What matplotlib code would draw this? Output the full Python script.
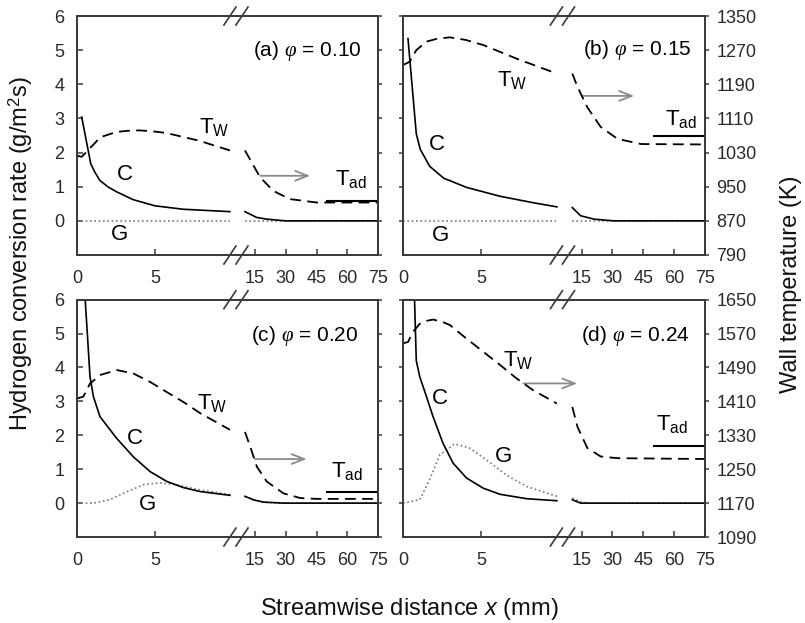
import numpy as np
import matplotlib
matplotlib.use("Agg")
import matplotlib.pyplot as plt

plt.rcParams['font.family'] = ['Liberation Sans', 'DejaVu Sans']
plt.rcParams['mathtext.fontset'] = 'custom'
plt.rcParams['mathtext.rm'] = 'Liberation Sans'
plt.rcParams['mathtext.it'] = 'Liberation Serif:italic'
plt.rcParams['mathtext.sf'] = 'Liberation Sans:italic'

# ---- data (x in mm, C and G in g/m2s, T in K) ----
# panel (a) phi = 0.10
a_c1_x = [0.3, 0.88, 1.15, 1.47, 2.0, 2.54, 3.6, 5.0, 6.8, 9.8]
a_c1_y = [3.04, 1.67, 1.42, 1.18, 0.99, 0.85, 0.62, 0.44, 0.34, 0.27]
a_c2_x = [10.1, 15.8, 20.7, 30, 75]
a_c2_y = [0.27, 0.10, 0.05, 0.0, 0.0]
a_g1_x = [0, 9.8]
a_g1_y = [0, 0]
a_g2_x = [10.1, 75]
a_g2_y = [0, 0]
a_tw1_x = [0, 0.3, 0.9, 1.5, 2.5, 3.2, 4.0, 4.8, 5.7, 7.8, 9.8]
a_tw1_T = [1023, 1020, 1043, 1066, 1078, 1081, 1082, 1080, 1076, 1058, 1035]
a_tw2_x = [10.1, 14.2, 17.5, 24, 32, 45, 75]
a_tw2_T = [1035, 1000, 972, 940, 921, 913, 913]
a_tad = 916

# panel (b) phi = 0.15
b_c1_x = [0.32, 0.85, 1.1, 1.7, 2.6, 4.06, 6.2, 8.33, 9.83]
b_c1_y = [5.34, 2.55, 2.10, 1.60, 1.25, 0.98, 0.72, 0.53, 0.41]
b_c2_x = [10.5, 14.5, 21, 30.7, 75]
b_c2_y = [0.39, 0.15, 0.05, 0.0, 0.0]
b_g1_x = [0, 9.8]
b_g1_y = [0, 0]
b_g2_x = [10.5, 75]
b_g2_y = [0, 0]
b_tw1_x = [0, 0.43, 0.85, 1.5, 2.2, 3.0, 4.0, 5.13, 7.26, 9.83]
b_tw1_T = [1235, 1243, 1270, 1290, 1297, 1300, 1294, 1282, 1250, 1215]
b_tw2_x = [10.5, 13, 17.8, 24.3, 32.5, 43.9, 75]
b_tw2_T = [1215, 1184, 1136, 1090, 1062, 1050, 1049]
b_tad = 1068

# panel (c) phi = 0.20
c_c1_x = [0.48, 0.66, 0.83, 1.05, 1.47, 2.54, 3.6, 4.68, 5.75, 6.8, 7.9, 9.8]
c_c1_y = [6.3, 5.0, 3.73, 3.14, 2.55, 1.91, 1.37, 0.93, 0.64, 0.46, 0.34, 0.23]
c_c2_x = [10.1, 14.2, 19, 28.9, 75]
c_c2_y = [0.20, 0.10, 0.03, 0.0, 0.0]
c_g1_x = [0, 1.05, 2.1, 3.2, 4.25, 5.3, 6.4, 7.9, 9.8]
c_g1_y = [0, 0, 0.10, 0.34, 0.54, 0.60, 0.54, 0.39, 0.25]
c_g2_x = [10.1, 15, 20, 30, 75]
c_g2_y = [0.20, 0.08, 0.02, 0.0, 0.0]
c_tw1_x = [0, 0.4, 0.83, 1.47, 2.54, 3.6, 4.68, 5.75, 6.8, 7.9, 9.8]
c_tw1_T = [1417, 1421, 1452, 1472, 1484, 1476, 1456, 1432, 1409, 1382, 1343]
c_tw2_x = [10.1, 12.6, 15.9, 20.7, 28.9, 37, 45, 75]
c_tw2_T = [1338, 1304, 1256, 1221, 1193, 1182, 1180, 1180]
c_tad = 1196

# panel (d) phi = 0.24
d_c1_x = [0.72, 0.85, 1.07, 1.5, 1.92, 2.56, 3.2, 4.06, 5.13, 6.2, 7.9, 9.83]
d_c1_y = [6.3, 4.2, 3.73, 3.14, 2.55, 1.76, 1.18, 0.74, 0.44, 0.26, 0.13, 0.07]
d_c2_x = [10.5, 14.5, 75]
d_c2_y = [0.10, 0.0, 0.0]
d_g1_x = [0, 1.07, 1.7, 2.35, 3.3, 4.27, 5.34, 6.6, 7.9, 9.83]
d_g1_y = [0, 0.10, 0.69, 1.42, 1.75, 1.62, 1.27, 0.83, 0.49, 0.20]
d_g2_x = [10.5, 15, 20, 75]
d_g2_y = [0.15, 0.03, 0.0, 0.0]
d_tw1_x = [0, 0.32, 0.64, 1.07, 1.5, 1.92, 2.5, 3.0, 4.06, 5.13, 6.2, 7.26, 8.33, 9.83]
d_tw1_T = [1547, 1550, 1574, 1593, 1600, 1603, 1598, 1590, 1558, 1527, 1496, 1464,
           1436, 1405]
d_tw2_x = [10.5, 13, 17.8, 24.3, 32.5, 75]
d_tw2_T = [1397, 1350, 1300, 1280, 1276, 1274]
d_tad = 1304

titles = ['(a) $\\varphi$ = 0.10', '(b) $\\varphi$ = 0.15',
          '(c) $\\varphi$ = 0.20', '(d) $\\varphi$ = 0.24']
x_ticks = [0, 5, 15, 30, 45, 60, 75]
y_ticks = [0, 1, 2, 3, 4, 5, 6]
t_ticks_top = [790, 870, 950, 1030, 1110, 1190, 1270, 1350]
t_ticks_bot = [1090, 1170, 1250, 1330, 1410, 1490, 1570, 1650]

# broken x axis: 0-10 mm linear, then 10-75 mm compressed
GAP = 0.75
K = 0.1314


def fwd(x):
    x = np.asarray(x, dtype=float)
    return np.where(x <= 10, x, 10 + GAP + (x - 10) * K)


def inv(u):
    u = np.asarray(u, dtype=float)
    return np.where(u <= 10, u, 10 + np.maximum(u - 10 - GAP, 0) / K)


panels = [
    dict(c=(a_c1_x, a_c1_y, a_c2_x, a_c2_y), g=(a_g1_x, a_g1_y, a_g2_x, a_g2_y),
         tw=(a_tw1_x, a_tw1_T, a_tw2_x, a_tw2_T), tad=a_tad, tt=t_ticks_top,
         txt_tw=(8.78, 2.76), txt_c=(3.08, 1.37), txt_g=(2.69, -0.39),
         txt_tad=(61.7, 1.23), title=(67.1, 4.98), arrow=(17.5, 41.9, 1.32)),
    dict(c=(b_c1_x, b_c1_y, b_c2_x, b_c2_y), g=(b_g1_x, b_g1_y, b_g2_x, b_g2_y),
         tw=(b_tw1_x, b_tw1_T, b_tw2_x, b_tw2_T), tad=b_tad, tt=t_ticks_top,
         txt_tw=(6.99, 4.12), txt_c=(2.14, 2.25), txt_g=(2.39, -0.44),
         txt_tad=(63.3, 2.99), title=(68.2, 5.0), arrow=(15.4, 40.6, 3.66)),
    dict(c=(c_c1_x, c_c1_y, c_c2_x, c_c2_y), g=(c_g1_x, c_g1_y, c_g2_x, c_g2_y),
         tw=(c_tw1_x, c_tw1_T, c_tw2_x, c_tw2_T), tad=c_tad, tt=t_ticks_bot,
         txt_tw=(8.68, 2.96), txt_c=(3.72, 1.91), txt_g=(4.53, -0.05),
         txt_tad=(59.8, 0.96), title=(65.4, 4.92), arrow=(15.0, 40.2, 1.30)),
    dict(c=(d_c1_x, d_c1_y, d_c2_x, d_c2_y), g=(d_g1_x, d_g1_y, d_g2_x, d_g2_y),
         tw=(d_tw1_x, d_tw1_T, d_tw2_x, d_tw2_T), tad=d_tad, tt=t_ticks_bot,
         txt_tw=(7.37, 4.22), txt_c=(2.35, 3.09), txt_g=(6.45, 1.37),
         txt_tad=(58.8, 2.33), title=(67.4, 4.92), arrow=(7.69, 12.9, 3.53)),
]

rects = [
    [0.0957, 0.5907, 0.3739, 0.3836],
    [0.5006, 0.5907, 0.3752, 0.3836],
    [0.0957, 0.1380, 0.3739, 0.3810],
    [0.5006, 0.1380, 0.3752, 0.3810],
]

spine_col = '#3a3a3a'
tick_col = '#2a2a2a'

fig = plt.figure(figsize=(8.05, 6.23), dpi=100)

for i, p in enumerate(panels):
    ax = fig.add_axes(rects[i])
    ax.set_xscale('function', functions=(fwd, inv))
    ax.set_xlim(0, 75)
    ax.set_ylim(-1, 6)
    ax2 = ax.twinx()
    ax2.set_ylim(p['tt'][0], p['tt'][-1])

    # conversion rates
    c1x, c1y, c2x, c2y = p['c']
    g1x, g1y, g2x, g2y = p['g']
    ax.plot(g1x, g1y, color='#7a7a7a', lw=1.2, ls=(0, (1, 1.6)))
    ax.plot(g2x, g2y, color='#7a7a7a', lw=1.2, ls=(0, (1, 1.6)))
    ax.plot(c1x, c1y, color='black', lw=1.2)
    ax.plot(c2x, c2y, color='black', lw=1.2)

    # wall temperature
    t1x, t1T, t2x, t2T = p['tw']
    ax2.plot(t1x, t1T, color='black', lw=1.3, ls=(0, (6, 3.5)))
    ax2.plot(t2x, t2T, color='black', lw=1.3, ls=(0, (6, 3.5)))
    ax2.plot([50, 75], [p['tad'], p['tad']], color='black', lw=1.5)

    # labels
    ax.text(*p['txt_tw'], 'T$_\\mathregular{W}$', fontsize=16, ha='center', va='center')
    ax.text(*p['txt_c'], 'C', fontsize=16, ha='center', va='center')
    ax.text(*p['txt_g'], 'G', fontsize=16, ha='center', va='center')
    ax.text(*p['txt_tad'], 'T$_\\mathregular{ad}$', fontsize=16, ha='center', va='center')
    ax.text(*p['title'], titles[i], fontsize=15, ha='right', va='center')
    x0, x1, ya = p['arrow']
    ax.annotate('', xy=(x1, ya), xytext=(x0, ya),
                arrowprops=dict(arrowstyle='->,head_length=0.9,head_width=0.35',
                                color='#8a8a8a', lw=1.3, shrinkA=0, shrinkB=0))

    # axes styling
    ax.set_xticks(x_ticks)
    ax.set_xticklabels([str(v) for v in x_ticks])
    ax.set_yticks(y_ticks)
    ax2.set_yticks(p['tt'])
    left_col = (i % 2 == 0)
    ax.tick_params(axis='x', direction='in', length=4, width=1.1, pad=11,
                   labelsize=13, colors=spine_col, labelcolor=tick_col)
    if left_col:
        ax.tick_params(axis='y', direction='in', length=4, width=1.1, pad=9,
                       labelsize=13, colors=spine_col, labelcolor=tick_col)
        ax2.tick_params(axis='y', direction='out', length=3, width=1.1,
                        labelright=False, colors=spine_col)
    else:
        ax.tick_params(axis='y', direction='out', length=3, width=1.1,
                       labelleft=False, colors=spine_col)
        ax2.tick_params(axis='y', direction='out', length=3, width=1.1, pad=5,
                        labelsize=13, colors=spine_col, labelcolor=tick_col)
    for a in (ax, ax2):
        for s in a.spines.values():
            s.set_color(spine_col)
            s.set_linewidth(1.3)

    # break marks on top and bottom spines
    xc = 0.528
    for yb in (0.0, 1.0):
        for dx in (-0.02, 0.02):
            ax.plot([xc + dx - 0.02, xc + dx + 0.02], [yb - 0.0377, yb + 0.0377],
                    transform=ax.transAxes, color=spine_col, lw=1.2, clip_on=False)

fig.text(0.026, 0.592, 'Hydrogen conversion rate (g/m$^\\mathregular{2}$s)',
         rotation=90, fontsize=17, ha='center', va='center', color='#111111')
fig.text(0.983, 0.544, 'Wall temperature (K)', rotation=90, fontsize=17,
         ha='center', va='center', color='#111111')
fig.text(0.509, 0.0225, 'Streamwise distance $\\mathsf{x}$ (mm)', fontsize=17,
         ha='center', va='center', color='#111111')

fig.savefig('out.png', dpi=100)
